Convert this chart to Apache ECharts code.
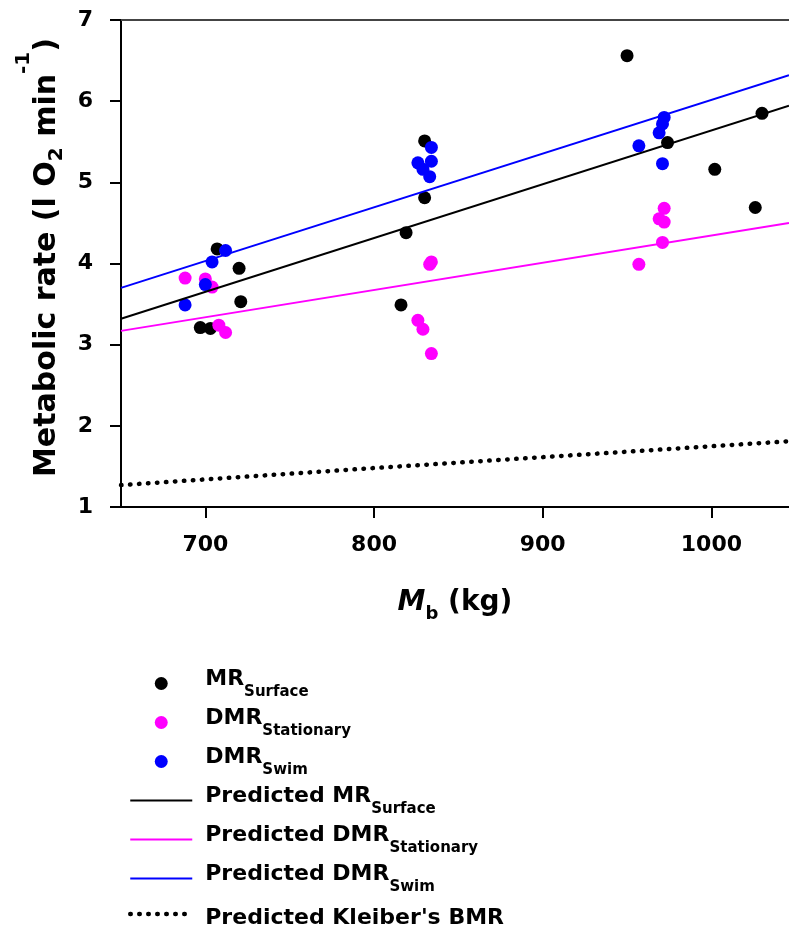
<!DOCTYPE html>
<html>
<head>
<meta charset="utf-8">
<script src="https://cdn.jsdelivr.net/npm/echarts@6/dist/echarts.min.js"></script>
<style>
  html, body { margin: 0; padding: 0; background: #fff; }
  #chart { width: 789px; height: 927px; }
</style>
</head>
<body>
<div id="chart"></div>
<script>
// ---- Data ----
var mrSurfaceX = [697, 703, 720, 721, 707, 816, 819, 830, 830, 950, 974, 1002, 1026, 1030];
var mrSurfaceY = [3.21, 3.20, 3.94, 3.53, 4.18, 3.49, 4.38, 4.81, 5.51, 6.56, 5.49, 5.16, 4.69, 5.85];

var dmrStatX = [688, 700, 704, 708, 712, 826, 829, 834, 833, 834, 957, 972, 969, 972, 971];
var dmrStatY = [3.82, 3.81, 3.71, 3.24, 3.15, 3.30, 3.19, 2.89, 3.99, 4.02, 3.99, 4.68, 4.55, 4.51, 4.26];

var dmrSwimX = [688, 700, 704, 712, 834, 826, 834, 829, 833, 957, 972, 971, 969, 971];
var dmrSwimY = [3.49, 3.74, 4.02, 4.16, 5.43, 5.24, 5.26, 5.16, 5.07, 5.45, 5.80, 5.72, 5.61, 5.23];

var predX = [650, 1046];
var predMR = [3.32, 5.945];
var predStat = [3.17, 4.50];
var predSwim = [3.70, 6.32];

var kleiberX = [650, 800, 1046];
var kleiberY = [1.27, 1.48, 1.81];

var xTicks = [700, 800, 900, 1000];

var seriesNames = ['MR_Surface', 'DMR_Stationary', 'DMR_Swim',
  'Predicted MR_Surface', 'Predicted DMR_Stationary', 'Predicted DMR_Swim', "Predicted Kleiber's BMR"];
var legendTexts = ['{p|MR}{s|Surface}', '{p|DMR}{s|Stationary}', '{p|DMR}{s|Swim}',
  '{p|Predicted MR}{s|Surface}', '{p|Predicted DMR}{s|Stationary}', '{p|Predicted DMR}{s|Swim}',
  "{k|Predicted Kleiber's BMR}"];

var xTitle = '{i|M}{sub|b}{m| (kg)}';
var yTitle = '{m0|Metabolic rate (l O}{sub|2}{m| min}{sup|-1}{m|)}';

function pairs(xs, ys) {
  var out = [];
  for (var i = 0; i < xs.length; i++) out.push([xs[i], ys[i]]);
  return out;
}

var FONT = 'DejaVu Sans';
var chart = echarts.init(document.getElementById('chart'), null, { renderer: 'canvas' });

var hiddenSym = { opacity: 0, color: 'rgba(0,0,0,0)', borderWidth: 0 };
var legendData = seriesNames.map(function (n, i) {
  if (i < 3) return { name: n };
  if (i === 6) return { name: n, itemStyle: hiddenSym, lineStyle: { width: 4.5 }, textStyle: { padding: [0, 0, 0, 0] } };
  return { name: n, itemStyle: hiddenSym, lineStyle: { width: 2 } };
});

var option = {
  animation: false,
  grid: { left: 121, right: 0, top: 20, bottom: 420 },
  xAxis: [{
    type: 'value', min: 650, max: 1046,
    axisLine: { show: true, onZero: false, lineStyle: { color: '#000', width: 2 } },
    axisTick: { show: true, inside: false, length: 11, lineStyle: { color: '#000', width: 2 }, customValues: xTicks },
    axisLabel: { margin: 27, fontFamily: FONT, fontWeight: 'bold', fontSize: 22, color: '#000', customValues: xTicks,
      formatter: function (v) { return String(v); } },
    splitLine: { show: false },
    name: xTitle, nameLocation: 'middle', nameGap: 82,
    nameTextStyle: {
      rich: {
        i: { fontFamily: FONT, fontWeight: 'bold', fontStyle: 'italic', fontSize: 28, lineHeight: 32, verticalAlign: 'top', color: '#000' },
        sub: { fontFamily: FONT, fontWeight: 'bold', fontSize: 18, lineHeight: 20, padding: [16, 0, 0, 0], verticalAlign: 'top', color: '#000' },
        m: { fontFamily: FONT, fontWeight: 'bold', fontSize: 28, lineHeight: 32, verticalAlign: 'top', color: '#000' }
      }
    }
  }, {
    type: 'value', min: 650, max: 1046, position: 'top',
    axisLine: { show: true, onZero: false, lineStyle: { color: '#444', width: 2 } },
    axisTick: { show: false }, axisLabel: { show: false }, splitLine: { show: false }
  }],
  yAxis: [{
    type: 'value', min: 1, max: 7, interval: 1,
    axisLine: { show: true, onZero: false, lineStyle: { color: '#000', width: 2 } },
    axisTick: { show: true, inside: false, length: 11, lineStyle: { color: '#000', width: 2 } },
    axisLabel: { margin: 28, fontFamily: FONT, fontWeight: 'bold', fontSize: 22, color: '#000' },
    splitLine: { show: false },
    name: yTitle, nameLocation: 'middle', nameGap: 59,
    nameTextStyle: {
      rich: {
        m0: { fontFamily: FONT, fontWeight: 'bold', fontSize: 30, lineHeight: 34, padding: [18, 0, 0, 12], verticalAlign: 'top', color: '#000' },
        m: { fontFamily: FONT, fontWeight: 'bold', fontSize: 30, lineHeight: 34, padding: [18, 0, 0, 0], verticalAlign: 'top', color: '#000' },
        sub: { fontFamily: FONT, fontWeight: 'bold', fontSize: 20, lineHeight: 22, padding: [33, 0, 0, 0], verticalAlign: 'top', color: '#000' },
        sup: { fontFamily: FONT, fontWeight: 'bold', fontSize: 20, lineHeight: 22, padding: [0, 0, 0, 0], verticalAlign: 'top', color: '#000' }
      }
    }
  }],
  legend: {
    orient: 'vertical', left: 128, top: 668, height: 300, padding: 0,
    itemWidth: 62, itemHeight: 13, itemGap: 7,
    selectedMode: false,
    data: legendData,
    formatter: function (name) { return legendTexts[seriesNames.indexOf(name)]; },
    textStyle: {
      padding: [0, 0, 7, 0],
      rich: {
        p: { fontFamily: FONT, fontWeight: 'bold', fontSize: 22, lineHeight: 24, padding: [0, 0, 0, 8], verticalAlign: 'top', color: '#000' },
        s: { fontFamily: FONT, fontWeight: 'bold', fontSize: 15, lineHeight: 15, padding: [17, 0, 0, 0], verticalAlign: 'top', color: '#000' },
        k: { fontFamily: FONT, fontWeight: 'bold', fontSize: 22, lineHeight: 24, padding: [5, 0, 5, 8], verticalAlign: 'top', color: '#000' }
      }
    }
  },
  series: [
    { name: seriesNames[0], type: 'scatter', z: 2, symbol: 'circle', symbolSize: 13, itemStyle: { color: '#000000', opacity: 1 }, data: pairs(mrSurfaceX, mrSurfaceY) },
    { name: seriesNames[1], type: 'scatter', z: 2, symbol: 'circle', symbolSize: 13, itemStyle: { color: '#ff00ff', opacity: 1 }, data: pairs(dmrStatX, dmrStatY) },
    { name: seriesNames[2], type: 'scatter', z: 2, symbol: 'circle', symbolSize: 13, itemStyle: { color: '#0000ff', opacity: 1 }, data: pairs(dmrSwimX, dmrSwimY) },
    { name: seriesNames[3], type: 'line', z: 3, symbol: 'none', showSymbol: false, itemStyle: { color: '#000000' }, lineStyle: { color: '#000000', width: 2 }, data: pairs(predX, predMR) },
    { name: seriesNames[4], type: 'line', z: 3, symbol: 'none', showSymbol: false, itemStyle: { color: '#ff00ff' }, lineStyle: { color: '#ff00ff', width: 2 }, data: pairs(predX, predStat) },
    { name: seriesNames[5], type: 'line', z: 3, symbol: 'none', showSymbol: false, itemStyle: { color: '#0000ff' }, lineStyle: { color: '#0000ff', width: 2 }, data: pairs(predX, predSwim) },
    { name: seriesNames[6], type: 'line', z: 3, symbol: 'none', showSymbol: false, itemStyle: { color: '#000000' }, lineStyle: { color: '#000000', width: 4.5, type: [0.5, 8.5], cap: 'round' }, data: pairs(kleiberX, kleiberY) }
  ]
};
chart.setOption(option);
</script>
</body>
</html>
